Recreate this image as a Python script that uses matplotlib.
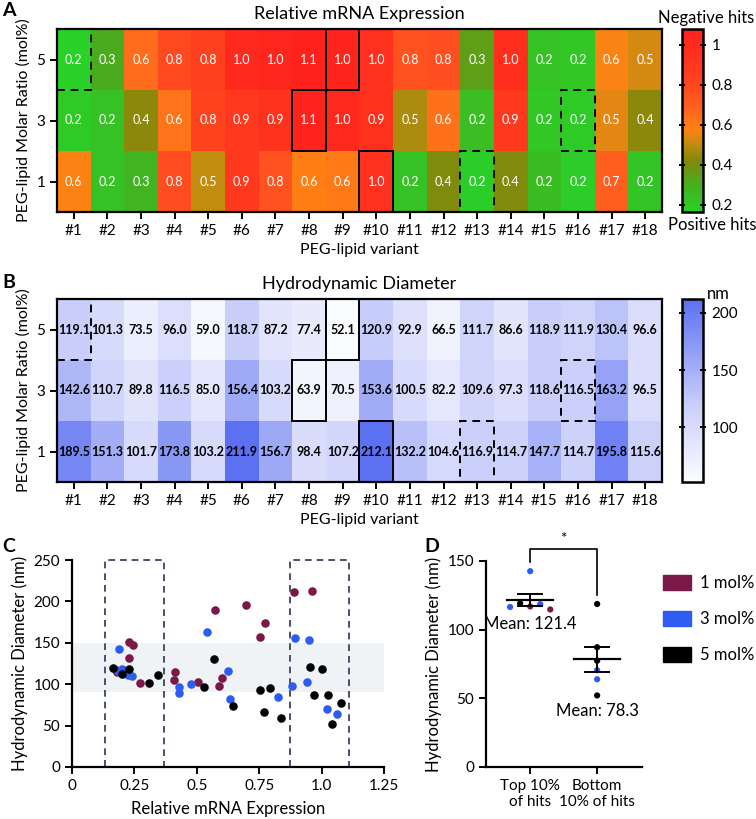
import numpy as np
import matplotlib
matplotlib.use("Agg")
import matplotlib.pyplot as plt
from matplotlib.colors import LinearSegmentedColormap
from matplotlib.patches import Rectangle, Patch

plt.rcParams['font.family'] = ['Lato', 'DejaVu Sans']
plt.rcParams['axes.linewidth'] = 1.6

# Data: 18 PEG-lipid variants x 3 molar ratios
variants = [f"#{i}" for i in range(1, 19)]
ratios = ["1", "3", "5"]

# relative mRNA expression
expr_1 = [0.574, 0.227, 0.273, 0.775, 0.506, 0.891, 0.752, 0.588, 0.600,
          0.960, 0.227, 0.407, 0.175, 0.413, 0.245, 0.180, 0.696, 0.210]
expr_3 = [0.189, 0.224, 0.428, 0.627, 0.824, 0.895, 0.942, 1.060, 1.022,
          0.948, 0.475, 0.634, 0.241, 0.883, 0.199, 0.185, 0.542, 0.428]
expr_5 = [0.163, 0.307, 0.647, 0.792, 0.838, 1.003, 1.027, 1.078, 1.043,
          0.954, 0.752, 0.768, 0.346, 0.968, 0.227, 0.201, 0.570, 0.527]

# hydrodynamic diameter (nm)
diam_1 = [189.5, 151.3, 101.7, 173.8, 103.2, 211.9, 156.7, 98.4, 107.2,
          212.1, 132.2, 104.6, 116.9, 114.7, 147.7, 114.7, 195.8, 115.6]
diam_3 = [142.6, 110.7, 89.8, 116.5, 85.0, 156.4, 103.2, 63.9, 70.5,
          153.6, 100.5, 82.2, 109.6, 97.3, 118.6, 116.5, 163.2, 96.5]
diam_5 = [119.1, 101.3, 73.5, 96.0, 59.0, 118.7, 87.2, 77.4, 52.1,
          120.9, 92.9, 66.5, 111.7, 86.6, 118.9, 111.9, 130.4, 96.6]

# highlighted cells (variant index, row index)
dashed_cells = [(0, 2), (15, 1), (12, 0)]
solid_cells = [(8, 2), (7, 1), (9, 0)]

# panel D groups
top_vals = [116.5, 119.1, 116.9, 118.6, 114.7, 142.6]
top_ratio = [3, 5, 1, 3, 1, 3]
bottom_vals = [118.7, 87.2, 77.4, 70.5, 63.9, 52.1]
bottom_ratio = [5, 5, 5, 3, 3, 5]

colors = {1: '#7a1848', 3: '#2f5cf0', 5: '#000000'}

expr = np.array([expr_1, expr_3, expr_5])
diam = np.array([diam_1, diam_3, diam_5])

cmap_a = LinearSegmentedColormap.from_list('hits', [
    (0.00, (0.16, 0.82, 0.16)),
    (0.15, (0.28, 0.68, 0.12)),
    (0.28, (0.52, 0.53, 0.04)),
    (0.37, (0.75, 0.55, 0.06)),
    (0.45, (1.00, 0.51, 0.08)),
    (0.58, (1.00, 0.37, 0.12)),
    (0.75, (1.00, 0.24, 0.12)),
    (1.00, (1.00, 0.13, 0.11)),
])
cmap_b = LinearSegmentedColormap.from_list('blues', [
    (0.00, (0.985, 0.99, 1.0)),
    (0.42, (0.79, 0.81, 0.98)),
    (1.00, (0.36, 0.44, 0.95)),
])

W, H = 756, 819
fig = plt.figure(figsize=(W / 100, H / 100), dpi=100)


def box(l, t, r, b):
    return [l / W, 1 - b / H, (r - l) / W, (b - t) / H]


def heatmap(rect, crect, data, cmap, txt_color, txt_weight, title, cbar_ticks, cbar_labels):
    ax = fig.add_axes(rect)
    m = ax.pcolormesh(np.arange(19), np.arange(4), data, cmap=cmap,
                      vmin=data.min(), vmax=data.max())
    for j in range(3):
        for i in range(18):
            ax.text(i + 0.5, j + 0.5, f"{data[j, i]:.1f}", ha='center', va='center',
                    fontsize=9, color=txt_color, fontweight=txt_weight)
    for (i, j) in dashed_cells:
        ax.add_patch(Rectangle((i, j), 1, 1, fill=False, ec='black', lw=1.4,
                               ls=(0, (4, 3)), zorder=5))
    for (i, j) in solid_cells:
        ax.add_patch(Rectangle((i, j), 1, 1, fill=False, ec='black', lw=1.4,
                               zorder=5))
    ax.set_xlim(0, 18)
    ax.set_ylim(0, 3)
    ax.set_xticks(np.arange(18) + 0.5)
    ax.set_xticklabels(variants)
    ax.set_yticks(np.arange(3) + 0.5)
    ax.set_yticklabels(ratios)
    ax.tick_params(direction='out', length=5, width=1.4, labelsize=11)
    ax.set_xlabel('PEG-lipid variant', fontsize=11.5, labelpad=4)
    ax.set_ylabel('PEG-lipid Molar Ratio (mol%)', fontsize=11.5, labelpad=4)
    ax.set_title(title, fontsize=13, pad=7)
    cax = fig.add_axes(crect)
    cb = fig.colorbar(m, cax=cax)
    cb.set_ticks(cbar_ticks)
    cb.set_ticklabels(cbar_labels)
    cb.outline.set_linewidth(1.8)
    cax.tick_params(axis='y', direction='inout', length=5, width=1.4, labelsize=11,
                    left=True, right=True)
    return ax, cax


axA, caxA = heatmap(box(57, 29, 662, 212), box(682, 29, 703, 212), expr, cmap_a, 'white',
                    'normal', 'Relative mRNA Expression', [0.2, 0.4, 0.6, 0.8, 1.0],
                    ['0.2', '0.4', '0.6', '0.8', '1'])
fig.text(754 / W, 1 - 18 / H, 'Negative hits', ha='right', va='center', fontsize=12)
fig.text(668 / W, 1 - 225 / H, 'Positive hits', ha='left', va='center', fontsize=12)

axB, caxB = heatmap(box(57, 299, 662, 482), box(682, 299, 703, 482), diam, cmap_b, 'black',
                    'bold', 'Hydrodynamic Diameter', [100, 150, 200], ['100', '150', '200'])
fig.text(707 / W, 1 - 294 / H, 'nm', ha='left', va='center', fontsize=12)

# Panel C
axC = fig.add_axes(box(72, 560, 384, 767))
axC.axhspan(90, 150, color='#f0f3f6', zorder=0, lw=0)
for x0, x1 in [(0.132, 0.367), (0.874, 1.11)]:
    axC.add_patch(Rectangle((x0, 0), x1 - x0, 250, fill=False, ec='#2b3550',
                            lw=1.2, ls=(0, (4, 3)), zorder=1, clip_on=False))
for r, ex, dm in [(1, expr_1, diam_1), (3, expr_3, diam_3), (5, expr_5, diam_5)]:
    axC.scatter(ex, dm, s=38, color=colors[r], zorder=3, lw=0)
axC.set_xlim(0, 1.25)
axC.set_ylim(0, 250)
axC.set_xticks([0, 0.25, 0.5, 0.75, 1.0, 1.25])
axC.set_xticklabels(['0', '0.25', '0.5', '0.75', '1.0', '1.25'])
axC.set_yticks([0, 50, 100, 150, 200, 250])
axC.spines[['top', 'right']].set_visible(False)
axC.tick_params(direction='out', length=5, width=1.4, labelsize=11)
axC.set_xlabel('Relative mRNA Expression', fontsize=12, labelpad=6)
axC.set_ylabel('Hydrodynamic Diameter (nm)', fontsize=12)

# Panel D
axD = fig.add_axes(box(486, 561, 642, 767))
jit = 0.15
top_x = np.array([-2, -1, 0, 1, 2, 0]) * jit
axD.scatter(top_x, top_vals, s=20, color=[colors[r] for r in top_ratio], zorder=3, lw=0)
axD.scatter(np.ones(len(bottom_vals)), bottom_vals, s=20,
            color=[colors[r] for r in bottom_ratio], zorder=3, lw=0)
for xc, vals in [(0, top_vals), (1, bottom_vals)]:
    mean = np.mean(vals)
    sem = np.std(vals, ddof=1) / np.sqrt(len(vals))
    axD.plot([xc - 0.34, xc + 0.34], [mean, mean], color='black', lw=1.6, zorder=4)
    axD.plot([xc, xc], [mean - sem, mean + sem], color='black', lw=1.4, zorder=4)
    axD.plot([xc - 0.18, xc + 0.18], [mean + sem] * 2, color='black', lw=1.4, zorder=4)
    axD.plot([xc - 0.18, xc + 0.18], [mean - sem] * 2, color='black', lw=1.4, zorder=4)
axD.text(0, 104, f"Mean: {np.mean(top_vals):.1f}", ha='center', va='center', fontsize=12)
axD.text(1, 41, f"Mean: {np.mean(bottom_vals):.1f}", ha='center', va='center', fontsize=12)
axD.plot([0, 0, 1, 1], [149, 159, 159, 125.5], color='black', lw=1.2, clip_on=False)
axD.text(0.5, 161, '*', ha='center', va='bottom', fontsize=11)
axD.set_xlim(-0.66, 1.67)
axD.set_ylim(0, 150)
axD.set_yticks([0, 50, 100, 150])
axD.set_xticks([0, 1])
axD.set_xticklabels(['Top 10%\nof hits', 'Bottom\n10% of hits'])
axD.spines[['top', 'right']].set_visible(False)
axD.tick_params(direction='out', length=5, width=1.4, labelsize=11)
axD.set_ylabel('Hydrodynamic Diameter (nm)', fontsize=12)

handles = [Patch(color=colors[r]) for r in (1, 3, 5)]
fig.legend(handles, ['1 mol%', '3 mol%', '5 mol%'], loc='upper left',
           bbox_to_anchor=(648 / W, 1 - 560 / H), frameon=False, fontsize=12,
           handlelength=1.7, handleheight=1.0, labelspacing=1.2, handletextpad=0.5)

# panel letters
for lbl, x, y in [('A', 2, 10), ('B', 2, 283), ('C', 2, 546), ('D', 424, 546)]:
    fig.text(x / W, 1 - y / H, lbl, fontsize=14, fontweight='bold', va='center')

fig.savefig('out.png', dpi=100)
